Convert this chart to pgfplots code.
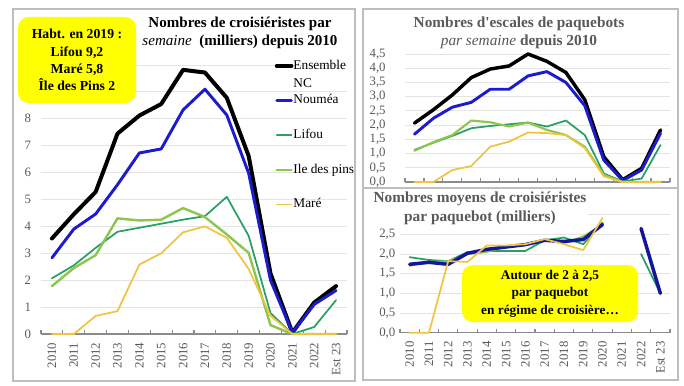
\documentclass[border=0pt]{standalone}
\usepackage{fontspec}
\setmainfont{Liberation Serif}
\usepackage{pgfplots}
\pgfplotsset{compat=1.18}
\definecolor{cBlue}{RGB}{28,28,205}
\definecolor{cLifou}{RGB}{40,160,100}
\definecolor{cIle}{RGB}{140,198,78}
\definecolor{cMare}{RGB}{240,196,64}
\definecolor{cGrid}{RGB}{228,228,228}
\definecolor{cAxis}{RGB}{140,140,140}
\definecolor{cText}{RGB}{89,89,89}
\definecolor{cBorder}{RGB}{190,190,190}
\definecolor{cYellow}{RGB}{255,255,0}

\pgfplotsset{
  panel/.style={
    scale only axis,
    clip=false,
    xmin=-0.5, xmax=13.5,
    ymin=0,
    xtick={0,...,13},
    minor xtick={-0.5,0.5,...,13.5},
    major tick length=0pt,
    minor tick length=3pt,
    tick align=inside,
    axis lines*=left,
    x axis line style={draw=cAxis, line width=0.9pt, -},
    y axis line style={draw=none},
    minor x tick style={draw=cAxis, line width=0.9pt},
    ymajorgrids, grid style={draw=cGrid, line width=0.6pt},
    tick label style={font=\fontsize{9.6}{10}\selectfont, text=cText},
    /pgf/number format/assume math mode=true,
    xticklabel style={rotate=90, anchor=east},
    xticklabel shift=3pt,
    unbounded coords=jump,
    every axis plot/.append style={line join=round, line cap=round, mark=none},
  },
  yrs/.style={xticklabels={2010,2011,2012,2013,2014,2015,2016,2017,2018,2019,2020,2021,2022,Est 23}},
  dec/.style={/pgf/number format/.cd, use comma, fixed, fixed zerofill, precision=1},
}

\pgfplotstableread{
x  ens   nou   lif   ile   mar
0  3.55  2.83  2.07  1.78  0
1  4.45  3.90  2.55  2.45  0
2  5.28  4.46  3.20  2.93  0.67
3  7.45  5.55  3.80  4.30  0.85
4  8.12  6.73  3.95  4.22  2.58
5  8.55  6.88  4.10  4.25  3.00
6  9.82  8.33  4.25  4.68  3.78
7  9.72  9.10  4.38  4.35  4.00
8  8.78  8.14  5.10  3.70  3.58
9  6.62  5.98  3.65  3.02  2.42
10 2.25  2.00  0.78  0.33  0.68
11 0.05  0.05  0.00  0.00  0
12 1.17  1.10  0.26  0.00  0
13 1.78  1.62  1.26  0.00  0
}\croisieristes

\pgfplotstableread{
x  ens   nou   lif   ile   mar
0  2.07  1.68  1.13  1.10  0
1  2.54  2.24  1.38  1.40  0
2  3.06  2.63  1.62  1.65  0.42
3  3.67  2.80  1.89  2.16  0.56
4  3.97  3.26  1.97  2.10  1.24
5  4.08  3.26  2.03  1.95  1.42
6  4.50  3.73  2.09  2.09  1.74
7  4.24  3.88  1.95  1.83  1.72
8  3.85  3.50  2.16  1.65  1.65
9  2.89  2.68  1.65  1.24  1.19
10 0.89  0.77  0.30  0.25  0.20
11 0.08  0.05  0.02  0.00  0
12 0.48  0.42  0.12  0.00  0
13 1.83  1.71  1.30  0.00  0
}\escales

\pgfplotstableread{
x  nou   lif   ile   mar
0  1.74  1.92  1.70  0
1  1.79  1.85  1.80  0
2  1.74  1.82  1.82  1.82
3  2.02  2.05  2.00  1.80
4  2.12  2.08  2.05  2.22
5  2.18  2.08  2.20  2.22
6  2.24  2.08  2.25  2.25
7  2.35  2.35  2.35  2.38
8  2.32  2.42  2.28  2.25
9  2.37  2.25  2.45  2.10
10 2.75  2.80  2.75  2.92
11 nan   nan   nan   nan
12 2.65  2.00  nan   nan
13 1.00  1.00  nan   nan
}\moyens

\begin{document}
\begin{tikzpicture}
\useasboundingbox (0,0) rectangle (513pt,288.75pt);
\fill[white] (0,0) rectangle (513pt,288.75pt);
\draw[cBorder, line width=0.8pt] (9.75pt,3pt) rectangle (266.25pt,282pt);
\draw[cBorder, line width=0.8pt] (272.25pt,3.75pt) rectangle (508.5pt,282pt);
\draw[cBorder, line width=0.8pt] (272.25pt,147.75pt) -- (508.5pt,147.75pt);

% ---------- left chart
\begin{axis}[panel, yrs, at={(30.75pt,38.25pt)}, anchor=south west,
  width=229.5pt, height=201.75pt, ymax=10, ytick={0,...,10},
  yticklabel shift=4pt,
  legend cell align=left,
  legend image code/.code={\draw[#1] (0pt,0pt) -- (11pt,0pt);},
  legend style={at={(0.75,1.03)}, anchor=north west, draw=none, fill=none,
    font=\fontsize{10}{12}\selectfont, row sep=17pt,
    nodes={inner sep=0pt, text height=7pt, text depth=2pt},
    /tikz/every even column/.append style={column sep=1pt}},
]
\addplot[black, line width=3pt] table[x=x,y=ens]{\croisieristes};
\addlegendentry{\smash{\makebox[0pt][l]{\raisebox{-13.5pt}{NC}}}Ensemble}
\addplot[cBlue, line width=2.2pt] table[x=x,y=nou]{\croisieristes};
\addlegendentry{Nouméa}
\addplot[cLifou, line width=1.3pt] table[x=x,y=lif]{\croisieristes};
\addlegendentry{Lifou}
\addplot[cIle, line width=1.8pt] table[x=x,y=ile]{\croisieristes};
\addlegendentry{Ile des pins}
\addplot[cMare, line width=1.3pt] table[x=x,y=mar]{\croisieristes};
\addlegendentry{Maré}
\end{axis}

% ---------- right top chart
\begin{axis}[panel, dec, at={(303.75pt,152.25pt)}, anchor=south west,
  width=198.75pt, height=96pt, ymax=4.5, ytick={0,0.5,...,4.5},
  xticklabels={}, yticklabel shift=11pt,
]
\addplot[black, line width=2.6pt] table[x=x,y=ens]{\escales};
\addplot[cBlue, line width=2.2pt] table[x=x,y=nou]{\escales};
\addplot[cLifou, line width=1.3pt] table[x=x,y=lif]{\escales};
\addplot[cIle, line width=1.6pt] table[x=x,y=ile]{\escales};
\addplot[cMare, line width=1.3pt] table[x=x,y=mar]{\escales};
\end{axis}

% ---------- right bottom chart
\begin{axis}[panel, dec, yrs, at={(300pt,39.2pt)}, anchor=south west,
  width=202.5pt, height=88.5pt, ymax=3, ytick={0,0.5,...,2.5},
  extra y ticks={3}, extra y tick labels={},
  yticklabel shift=0pt,
]
\addplot[cLifou, line width=1.3pt] table[x=x,y=lif]{\moyens};
\addplot[cIle, line width=1.3pt] table[x=x,y=ile]{\moyens};
\addplot[cBlue!75!black, line width=2.6pt] table[x=x,y=nou]{\moyens};
\addplot[cMare, line width=1.3pt] table[x=x,y=mar]{\moyens};
\end{axis}

% ---------- titles and notes
\node[align=center, font=\bfseries\fontsize{11.3}{13.5}\selectfont] at (180pt,264pt)
  {Nombres de croisiéristes par\\{\mdseries\itshape semaine}~ (milliers) depuis 2010};
\node[align=center, text=cText, font=\bfseries\fontsize{11.5}{13.5}\selectfont] at (389.25pt,264pt)
  {Nombres d\textquotesingle escales de paquebots\\{\mdseries\itshape par semaine} depuis 2010};
\node[align=center, text=cText, fill=white, inner sep=1pt, font=\bfseries\fontsize{11.5}{14}\selectfont] at (360pt,132.4pt)
  {Nombres moyens de croisiéristes\\par paquebot (milliers)};

\node[fill=cYellow, rounded corners=8pt, minimum width=88.5pt, minimum height=64.5pt,
  align=center, inner sep=0pt, font=\bfseries\fontsize{10.3}{13}\selectfont]
  at (57.75pt,243.75pt) {Habt. en 2019 :\\Lifou 9,2\\Maré 5,8\\Île des Pins 2};
\node[fill=cYellow, rounded corners=8pt, minimum width=132pt, minimum height=42.75pt,
  align=center, inner sep=0pt, font=\bfseries\fontsize{10}{13.1}\selectfont]
  at (412.5pt,68.6pt) {Autour de 2 à 2,5\\par paquebot\\en régime de croisière…};
\end{tikzpicture}
\end{document}
